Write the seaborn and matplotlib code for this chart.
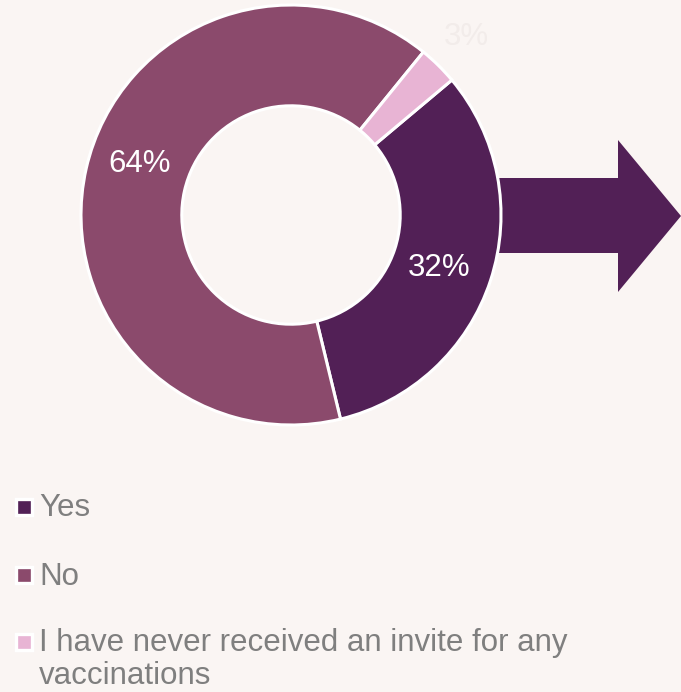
import matplotlib
matplotlib.use("Agg")
import matplotlib.pyplot as plt
from matplotlib.patches import Polygon
import numpy as np
import seaborn as sns

# Survey answers
categories = ["Yes", "No", "I have never received an invite for any\nvaccinations"]
shares = [32, 64, 3]
pct_labels = ["32%", "64%", "3%"]

BG = "#FAF5F3"
colors = sns.color_palette(["#522056", "#8B4A6C", "#E8B4D4"])
label_colors = ["white", "white", "#F2ECEA"]

sns.set_theme(style="white")
plt.rcParams["font.family"] = ["Liberation Sans", "DejaVu Sans"]

W, H = 681, 692
fig = plt.figure(figsize=(W / 100, H / 100), dpi=100, facecolor=BG)
ax = fig.add_axes([0, 0, 1, 1])
ax.set_facecolor(BG)

cx, cy, R = 291, H - 215, 210

# Arrow pointing right from the donut
arrow = Polygon([(480, H - 178), (618, H - 178), (618, H - 140), (681, H - 216),
                 (618, H - 292), (618, H - 253), (480, H - 253)],
                closed=True, facecolor="#522056", edgecolor="none", zorder=1)
ax.add_patch(arrow)

wedges, _ = ax.pie(shares, colors=colors, startangle=40, counterclock=False,
                   center=(cx, cy), radius=R,
                   wedgeprops=dict(width=R * 0.48, edgecolor="white", linewidth=2.2))
for w in wedges:
    w.set_zorder(2)

# Percentage labels placed along each wedge's mid angle
label_radius = [0.75, 0.76, 1.19]
angle_shift = [-1.5, -6, 0]
for w, txt, col, rf, da in zip(wedges, pct_labels, label_colors, label_radius, angle_shift):
    mid = np.deg2rad((w.theta1 + w.theta2) / 2 + da)
    ax.text(cx + rf * R * np.cos(mid), cy + rf * R * np.sin(mid), txt,
            ha="center", va="center", fontsize=22.5, color=col, zorder=3)

# Legend below the chart (square markers with a white rim)
marker_y = [507, 575, 642]
text_baseline = [516, 585, 684]   # baseline of each label's last line
for cat, col, my, b in zip(categories, colors, marker_y, text_baseline):
    ax.plot([24], [H - my], marker="s", markersize=11.7, color=col,
            markeredgecolor="white", markeredgewidth=2.4, zorder=3)
    ax.text(39, H - b, cat, ha="left", va="baseline",
            fontsize=22.5, color="#7F7F7F", linespacing=1.12)

ax.set_xlim(0, W)
ax.set_ylim(0, H)
ax.set_aspect("equal")
ax.axis("off")

fig.savefig("out.png", dpi=100, facecolor=BG)
